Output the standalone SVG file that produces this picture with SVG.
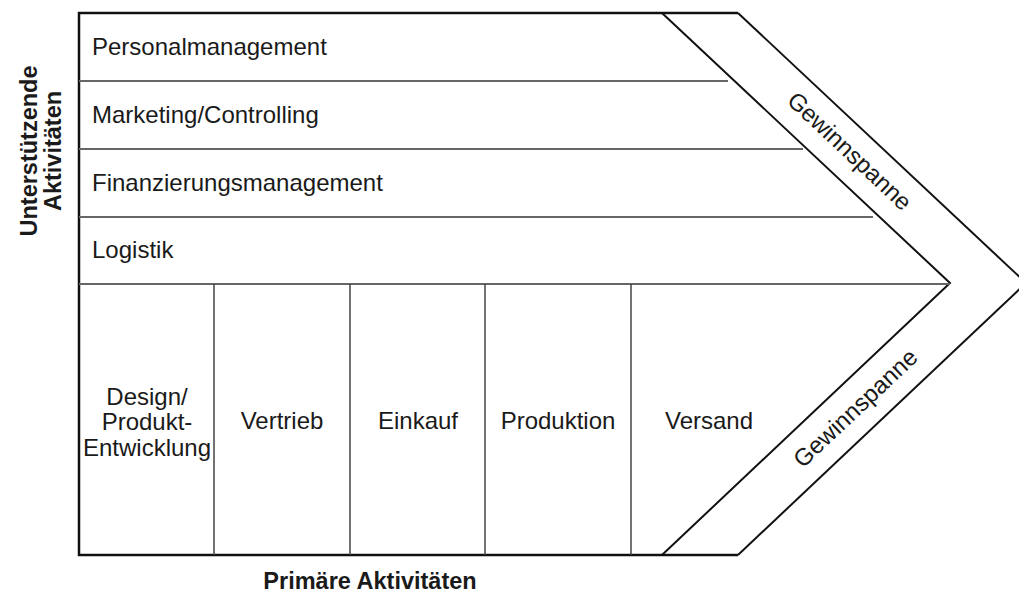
<svg xmlns="http://www.w3.org/2000/svg" width="1019" height="595" viewBox="0 0 1019 595">
  <style>
    .lbl { font-family: "Liberation Sans", Arial, sans-serif; font-size: 24px; fill: #1a1a1a; }
    .mid { text-anchor: middle; }
    .axis { font-family: "Liberation Sans", Arial, sans-serif; font-size: 23.5px; font-weight: bold; fill: #1a1a1a; text-anchor: middle; }
    .frame { fill: none; stroke: #111; stroke-width: 2.5; stroke-linejoin: miter; }
    .chev { fill: none; stroke: #111; stroke-width: 2; }
    .row { stroke: #666; stroke-width: 2; }
    .col { stroke: #444; stroke-width: 1.5; }
  </style>
  <rect width="1019" height="595" fill="#fff"/>

  <!-- outer frame and margin chevron -->
  <g id="frame">
    <polyline class="frame" points="738,13 79,13 79,555 738,555"/>
    <line class="chev" x1="738" y1="13" x2="1026" y2="283"/>
    <line class="chev" x1="1026" y1="283" x2="738" y2="555"/>
    <polyline class="chev" points="662,13 950,283 662,555"/>
  </g>

  <!-- separators between activity bands and cells -->
  <g id="connectors">
    <line class="row" x1="79" y1="81" x2="728" y2="81"/>
    <line class="row" x1="79" y1="149" x2="803" y2="149"/>
    <line class="row" x1="79" y1="217" x2="873" y2="217"/>
    <line class="row" x1="79" y1="284" x2="950" y2="284"/>
    <line class="col" x1="214" y1="284" x2="214" y2="555"/>
    <line class="col" x1="350" y1="284" x2="350" y2="555"/>
    <line class="col" x1="485" y1="284" x2="485" y2="555"/>
    <line class="col" x1="631" y1="284" x2="631" y2="555"/>
  </g>

  <!-- support activities -->
  <g id="personalmanagement"><text class="lbl" x="92" y="55">Personalmanagement</text></g>
  <g id="marketing"><text class="lbl" x="92" y="123">Marketing/Controlling</text></g>
  <g id="finanzierung"><text class="lbl" x="92" y="191">Finanzierungsmanagement</text></g>
  <g id="logistik"><text class="lbl" x="92" y="258">Logistik</text></g>

  <!-- primary activities -->
  <g id="design">
    <text class="lbl mid" x="147" y="405">Design/</text>
    <text class="lbl mid" x="147" y="430">Produkt-</text>
    <text class="lbl mid" x="147" y="456">Entwicklung</text>
  </g>
  <g id="vertrieb"><text class="lbl mid" x="282" y="429">Vertrieb</text></g>
  <g id="einkauf"><text class="lbl mid" x="418" y="429">Einkauf</text></g>
  <g id="produktion"><text class="lbl mid" x="558" y="429">Produktion</text></g>
  <g id="versand"><text class="lbl mid" x="709" y="429">Versand</text></g>

  <!-- margin labels -->
  <g id="gewinnspanne-oben">
    <text class="lbl mid" transform="translate(844,157) rotate(43.2)">Gewinnspanne</text>
  </g>
  <g id="gewinnspanne-unten">
    <text class="lbl mid" transform="translate(861,414) rotate(-43.3)">Gewinnspanne</text>
  </g>

  <!-- axis captions -->
  <g id="unterstuetzende">
    <text class="axis" transform="translate(37,151) rotate(-90)">Unterstützende</text>
    <text class="axis" transform="translate(61,151) rotate(-90)">Aktivitäten</text>
  </g>
  <g id="primaere"><text class="axis" x="370" y="589">Primäre Aktivitäten</text></g>
</svg>
